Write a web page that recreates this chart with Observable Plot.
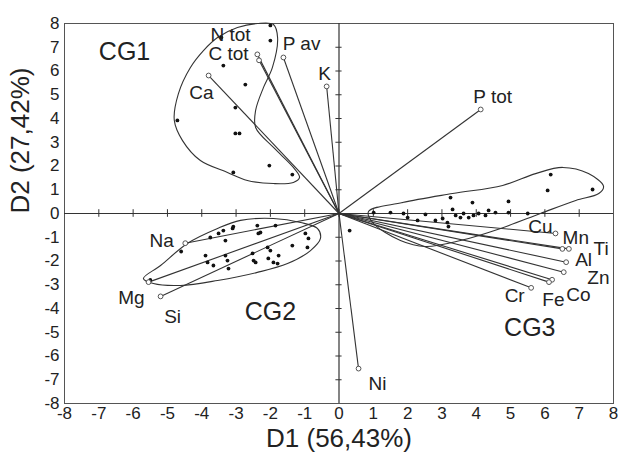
<!DOCTYPE html>
<html>
<head>
<meta charset="utf-8">
<script src="https://cdn.jsdelivr.net/npm/d3@7"></script>
<script src="https://cdn.jsdelivr.net/npm/@observablehq/plot@0.6"></script>
<style>
  html, body { margin: 0; padding: 0; background: #fff; }
</style>
</head>
<body>
<div id="chart"></div>
<script>
// Axis ticks
const ticks = d3.range(-8, 9);

// Variable vectors (loadings)
const vecNames = ["N tot","C tot","P av","K","Ca","P tot","Na","Mg","Si","Ni","Cu","Mn","Ti","Al","Zn","Co","Fe","Cr"];
const vecX = [-2.38,-2.33,-1.62,-0.36,-3.80,4.13,-4.48,-5.55,-5.20,0.57,6.31,6.51,6.70,6.62,6.55,6.21,6.12,5.60];
const vecY = [6.70,6.45,6.57,5.35,5.81,4.38,-1.25,-2.89,-3.49,-6.53,-0.84,-1.49,-1.49,-2.05,-2.47,-2.79,-2.89,-3.13];
const labelX = [-3.16,-3.22,-1.09,-0.42,-4.01,4.48,-5.17,-6.05,-4.85,1.12,5.87,6.90,7.64,7.13,7.56,6.98,6.25,5.12];
const labelY = [7.52,6.70,7.16,5.89,5.09,4.93,-1.14,-3.54,-4.34,-7.16,-0.55,-1.03,-1.47,-1.94,-2.72,-3.41,-3.62,-3.49];

// Observations (scores)
const cg1Points = [[-2.00,7.92],[-2.00,7.28],[-3.43,7.41],[-3.37,6.23],[-2.73,5.43],[-3.02,4.46],[-4.71,3.92],[-3.02,3.37],[-2.90,3.37],[-3.08,1.73],[-2.03,2.02],[-1.36,1.64]];
const cg2Points = [[-3.08,-0.55],[-3.10,-0.63],[-3.51,-0.84],[-3.37,-0.72],[-3.31,-1.14],[-3.75,-1.01],[-2.38,-0.51],[-2.29,-0.80],[-2.35,-0.84],[-1.85,-0.51],[-3.89,-1.77],[-3.83,-2.06],[-3.66,-2.19],[-3.31,-1.77],[-3.25,-1.98],[-3.22,-2.32],[-2.52,-1.68],[-2.49,-1.98],[-2.43,-2.06],[-2.08,-1.43],[-2.00,-1.56],[-2.06,-1.89],[-1.76,-1.77],[-1.91,-2.06],[-1.79,-2.11],[-1.36,-1.35],[-0.98,-0.84],[-0.89,-1.05],[-0.92,-1.43],[-4.60,-1.60],[-5.50,-2.80],[0.31,-0.72]];
const cg3Points = [[1.01,0.04],[1.50,0.04],[1.88,0.00],[2.00,-0.17],[2.29,-0.29],[2.52,-0.04],[2.81,-0.29],[3.02,-0.21],[3.16,-0.38],[3.19,-0.55],[3.25,0.67],[3.31,0.17],[3.40,-0.08],[3.54,-0.17],[3.63,0.00],[3.78,-0.17],[3.89,0.46],[3.92,-0.08],[4.07,0.00],[4.27,-0.08],[4.36,0.13],[4.56,0.04],[4.94,0.51],[4.94,0.04],[5.50,0.00],[6.17,1.64],[6.08,0.97],[7.39,1.01]];

// Group outlines
const cg1Hull = [[-1.91,7.96],[-1.79,7.41],[-1.94,6.15],[-2.20,5.31],[-2.43,4.34],[-2.43,3.62],[-1.91,2.78],[-1.33,1.94],[-1.15,1.52],[-1.33,1.31],[-1.91,1.26],[-2.67,1.39],[-3.25,1.73],[-4.04,2.23],[-4.56,3.07],[-4.80,3.92],[-4.68,5.05],[-4.33,6.15],[-3.95,6.86],[-3.54,7.41],[-2.96,7.83],[-2.38,8.00]];
const cg2Hull = [[-5.70,-2.74],[-5.20,-2.19],[-4.42,-1.26],[-3.54,-0.63],[-2.87,-0.29],[-1.91,-0.21],[-1.12,-0.38],[-0.63,-0.63],[-0.54,-1.05],[-0.83,-1.56],[-1.50,-2.11],[-2.38,-2.48],[-3.54,-2.82],[-4.62,-3.03],[-5.41,-2.95]];
const cg3Hull = [[0.86,0.08],[1.85,0.46],[3.31,0.84],[4.77,1.18],[5.73,1.68],[6.52,1.94],[7.27,1.68],[7.71,1.14],[7.57,0.84],[6.90,0.55],[5.87,0.00],[4.71,-0.63],[3.54,-1.14],[2.52,-1.39],[1.79,-1.14],[0.98,-0.38]];

// Group labels
const groupNames = ["CG1","CG2","CG3"];
const groupX = [-6.25,-2.00,5.56];
const groupY = [6.78,-4.13,-4.84];

const vectors = vecNames.map((n, i) => ({name: n, x: vecX[i], y: vecY[i], lx: labelX[i], ly: labelY[i]}));
const groups = groupNames.map((n, i) => ({name: n, x: groupX[i], y: groupY[i]}));
const points = [...cg1Points, ...cg2Points, ...cg3Points].map(([x, y]) => ({x, y}));
const hull = h => h.map(([x, y]) => ({x, y}));

const ink = "#333";
const tickLenX = 0.16, tickLenY = 0.09;

const chart = Plot.plot({
  width: 618,
  height: 460,
  marginLeft: 64,
  marginRight: 5,
  marginTop: 23,
  marginBottom: 57,
  style: {fontFamily: "'Liberation Sans', Arial, sans-serif", fontSize: "17px", color: "#222", background: "#fff"},
  x: {domain: [-8, 8]},
  y: {domain: [-8, 8]},
  marks: [
    Plot.frame({stroke: "#555"}),
    Plot.axisX({ticks, tickSize: 0, tickPadding: 3, tickFormat: d => `${d}`, label: null, fontSize: 17}),
    Plot.axisY({ticks, tickSize: 0, tickPadding: 5, tickFormat: d => `${d}`, label: null, fontSize: 17}),
    Plot.ruleX([0], {stroke: ink, strokeWidth: 1.2}),
    Plot.ruleY([0], {stroke: ink, strokeWidth: 1.2}),
    Plot.ruleX(ticks.filter(d => d > -8 && d < 8), {x: d => d, y1: -tickLenX, y2: tickLenX, stroke: ink}),
    Plot.ruleY(ticks.filter(d => d > -8 && d < 8), {y: d => d, x1: -tickLenY, x2: tickLenY, stroke: ink}),
    Plot.line(hull(cg1Hull), {x: "x", y: "y", curve: "catmull-rom-closed", stroke: ink, strokeWidth: 1.1}),
    Plot.line(hull(cg2Hull), {x: "x", y: "y", curve: "catmull-rom-closed", stroke: ink, strokeWidth: 1.1}),
    Plot.line(hull(cg3Hull), {x: "x", y: "y", curve: "catmull-rom-closed", stroke: ink, strokeWidth: 1.1}),
    Plot.link(vectors, {x1: 0, y1: 0, x2: "x", y2: "y", stroke: ink, strokeWidth: 1.1}),
    Plot.dot(points, {x: "x", y: "y", r: 1.9, fill: "#111", stroke: "none"}),
    Plot.dot(vectors, {x: "x", y: "y", r: 2.4, fill: "#fff", stroke: "#555", strokeWidth: 1}),
    Plot.text(vectors, {x: "lx", y: "ly", text: "name", fontSize: 19, fill: "#222"}),
    Plot.text(groups, {x: "x", y: "y", text: "name", fontSize: 25, fill: "#222"}),
    Plot.text(["D1 (56,43%)"], {frameAnchor: "bottom", dy: 35, lineAnchor: "middle", fontSize: 26, fill: "#222"}),
    Plot.text(["D2 (27,42%)"], {frameAnchor: "left", dx: -44, rotate: -90, lineAnchor: "middle", fontSize: 26, fill: "#222"})
  ]
});
document.getElementById("chart").appendChild(chart);
</script>
</body>
</html>
